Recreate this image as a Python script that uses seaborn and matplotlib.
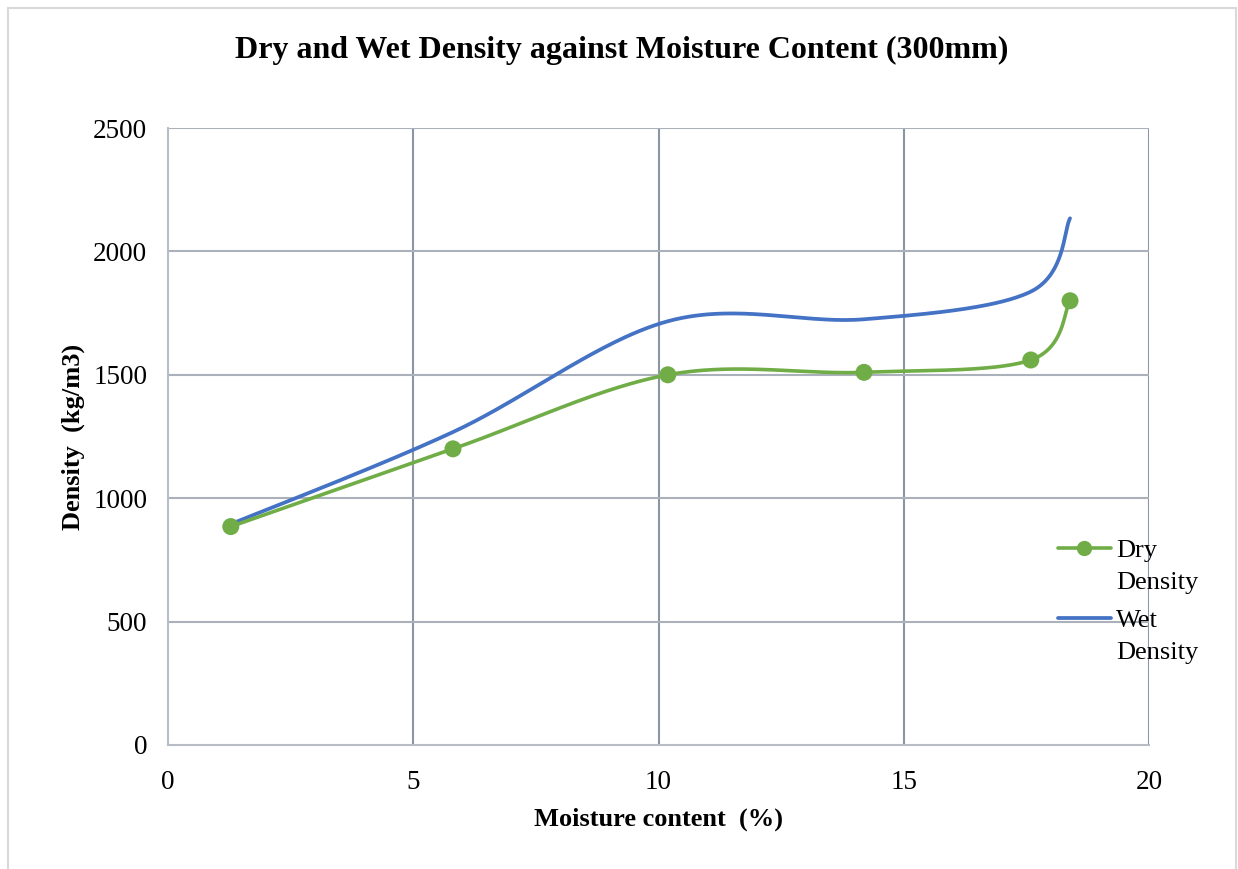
import numpy as np
import matplotlib
matplotlib.use("Agg")
import matplotlib.pyplot as plt
import seaborn as sns
from matplotlib.lines import Line2D
from matplotlib.patches import Rectangle

# Measured values
moisture = [1.28, 5.81, 10.19, 14.19, 17.59, 18.39]
dry_density = [885, 1200, 1500, 1510, 1560, 1800]
wet_density = [895, 1268, 1717, 1725, 1837, 2134]

x_ticks = [0, 5, 10, 15, 20]
y_ticks = [0, 500, 1000, 1500, 2000, 2500]

GREEN = "#70ad47"
BLUE = "#4472c4"


def smooth(xs, ys, n=60):
    """Catmull-Rom style smoothing through every measured point."""
    p = np.column_stack([xs, ys]).astype(float)
    ext = np.vstack([p[0], p, p[-1]])
    out = []
    for i in range(1, len(ext) - 2):
        p0, p1, p2, p3 = ext[i - 1], ext[i], ext[i + 1], ext[i + 2]
        c1 = p1 + (p2 - p0) / 6.0
        c2 = p2 - (p3 - p1) / 6.0
        t = np.linspace(0, 1, n)[:, None]
        seg = ((1 - t) ** 3) * p1 + 3 * ((1 - t) ** 2) * t * c1 + 3 * (1 - t) * t ** 2 * c2 + t ** 3 * p2
        out.append(seg if i == 1 else seg[1:])
    arr = np.vstack(out)
    return arr[:, 0], arr[:, 1]


sns.set_theme(style="white")
plt.rcParams["font.family"] = ["Liberation Serif", "DejaVu Serif"]
plt.rcParams["text.color"] = "black"
plt.rcParams["axes.labelcolor"] = "black"
plt.rcParams["xtick.color"] = "black"
plt.rcParams["ytick.color"] = "black"

fig = plt.figure(figsize=(12.38, 8.69), dpi=100)
ax = fig.add_axes([168 / 1238, 1 - 745 / 869, (1149 - 168) / 1238, (745 - 128) / 869])

dx, dy = smooth(moisture, dry_density)
wx, wy = smooth(moisture, wet_density)
sns.lineplot(x=wx, y=wy, color=BLUE, linewidth=2.7, sort=False, ax=ax, zorder=3)
sns.lineplot(x=dx, y=dy, color=GREEN, linewidth=2.6, sort=False, ax=ax, zorder=4)
sns.scatterplot(x=moisture, y=dry_density, color=GREEN, s=150, edgecolor="none", ax=ax, zorder=5)

ax.set_xlim(0, 20)
ax.set_ylim(0, 2500)
ax.set_xticks(x_ticks)
ax.set_yticks(y_ticks)
ax.tick_params(axis="both", length=0, labelsize=19.5)
ax.tick_params(axis="x", pad=18)
ax.tick_params(axis="y", pad=15)

for v in x_ticks[1:]:
    ax.axvline(v, color="#8b95a3", linewidth=1.5, zorder=1)
for v in y_ticks[1:]:
    ax.axhline(v, color="#abb1bb", linewidth=1.5, zorder=1)
for side in ["top", "right"]:
    ax.spines[side].set_visible(False)
for side in ["left", "bottom"]:
    ax.spines[side].set_color("#b8bdc5")
    ax.spines[side].set_linewidth(1.5)

ax.set_xlabel("Moisture content  (%)", fontsize=19, fontweight="bold", labelpad=9)
ax.set_ylabel("Density  (kg/m3)", fontsize=19, fontweight="bold", labelpad=6)
fig.text(622 / 1238, 1 - 50 / 869, "Dry and Wet Density against Moisture Content (300mm)",
         ha="center", va="center", fontsize=23, fontweight="bold")

handles = [
    Line2D([], [], color=GREEN, linewidth=2.6, marker="o", markersize=11, markeredgewidth=0),
    Line2D([], [], color=BLUE, linewidth=2.7),
]
leg = fig.legend(handles, ["Dry\nDensity", "Wet\nDensity"], loc="upper left",
                 bbox_to_anchor=(1058 / 1238, 1 - 540 / 869), frameon=False, fontsize=19,
                 handlelength=2.0, handletextpad=0.2, labelspacing=0.6, borderaxespad=0, borderpad=0)
for t in leg.get_texts():
    t.set_linespacing(1.6)
# keep each legend key level with the first line of its label
for h in leg.legend_handles:
    h.set_ydata(np.asarray(h.get_ydata(), dtype=float) + 13)

fig.add_artist(Rectangle((8 / 1238, -0.01), (1236 - 8) / 1238, 1.01 - 8 / 869,
                         transform=fig.transFigure, fill=False, edgecolor="#d9d9d9", linewidth=1.5))

fig.savefig("out.png", dpi=100)
